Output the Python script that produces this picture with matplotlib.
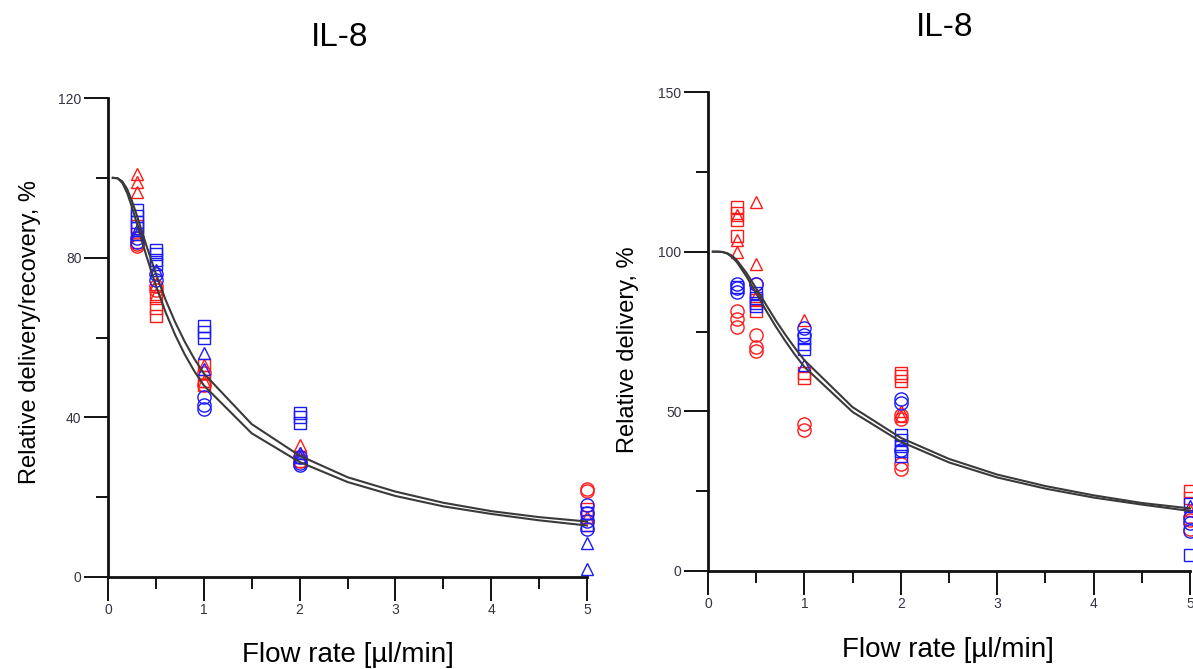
import matplotlib
matplotlib.use("Agg")
import matplotlib.pyplot as plt
from matplotlib.ticker import MultipleLocator

plt.rcParams['font.family'] = ['Liberation Sans', 'DejaVu Sans']

# ---- fitted curves (read at discrete flow rates) ----
curve_x = [0.05, 0.1, 0.15, 0.2, 0.25, 0.3, 0.4, 0.5, 0.6, 0.7, 0.8, 0.9,
           1.0, 1.5, 2.0, 2.5, 3.0, 3.5, 4.0, 4.5, 5.0]
left_curve_upper = [100, 99.9, 99.1, 97.2, 94.2, 90.7, 83.1, 76.0, 69.5, 63.9,
                    59.0, 54.7, 51.0, 38.3, 30.4, 25.0, 21.4, 18.6, 16.5, 15.0, 13.9]
left_curve_lower = [100, 99.9, 98.7, 96.2, 92.7, 88.7, 80.5, 73.0, 66.4, 60.7,
                    55.8, 51.6, 48.0, 36.0, 28.8, 23.8, 20.3, 17.7, 15.8, 14.2, 12.9]
right_curve_upper = [100, 100, 99.9, 99.5, 98.7, 97.3, 93.3, 88.5, 83.5, 78.6,
                     74.1, 69.9, 66.0, 51.3, 41.7, 35.1, 30.2, 26.6, 23.7, 21.3, 19.6]
right_curve_lower = [100, 100, 99.9, 99.4, 98.3, 96.7, 92.2, 87.0, 81.7, 76.7,
                     72.1, 67.8, 63.9, 49.8, 40.5, 34.0, 29.3, 25.8, 23.0, 20.8, 18.8]

# ---- measured points: left panel (relative delivery/recovery) ----
L_red_tri_x = [0.3, 0.3, 0.3, 0.5, 0.5, 1, 1, 2, 2, 5]
L_red_tri_y = [101, 99, 96.5, 73.5, 71, 53, 49, 33, 31, 15]
L_red_sq_x = [0.3, 0.3, 0.3, 0.5, 0.5, 0.5, 1, 1, 1, 2, 2, 5, 5, 5]
L_red_sq_y = [88, 86, 84, 70, 67.5, 65.5, 53, 49, 48, 30, 29, 17, 15, 13]
L_red_circ_x = [0.3, 0.3, 0.5, 0.5, 1, 1, 2, 5, 5]
L_red_circ_y = [83.5, 83, 73, 72, 51, 48, 29, 22, 21.5]
L_blue_tri_x = [0.3, 0.3, 0.5, 1, 1, 2, 2, 5, 5]
L_blue_tri_y = [87, 86, 77, 56, 52, 31, 30, 8.5, 2]
L_blue_sq_x = [0.3, 0.3, 0.3, 0.3, 0.5, 0.5, 0.5, 0.5, 1, 1, 1, 2, 2, 2, 5, 5]
L_blue_sq_y = [92, 90.5, 89, 87.5, 82, 81, 79.5, 78.5, 63, 61.5, 60, 41, 40, 38.5, 16, 13]
L_blue_circ_x = [0.3, 0.3, 0.5, 0.5, 1, 1, 1, 2, 2, 2, 5, 5, 5, 5]
L_blue_circ_y = [85, 84, 76, 74.5, 45, 43, 42, 30, 28.5, 28, 18, 16, 14, 12]

# ---- measured points: right panel (relative delivery) ----
R_red_tri_x = [0.3, 0.3, 0.3, 0.5, 0.5, 0.5, 1, 2, 2, 5]
R_red_tri_y = [111.5, 103.5, 100, 115.5, 96, 86, 78.5, 50, 48.5, 19]
R_red_sq_x = [0.3, 0.3, 0.3, 0.3, 0.5, 0.5, 1, 1, 2, 2, 2, 5, 5]
R_red_sq_y = [114, 112, 110, 105, 85, 81.5, 62, 60.5, 62, 61, 59.5, 25, 23]
R_red_circ_x = [0.3, 0.3, 0.3, 0.5, 0.5, 0.5, 0.5, 1, 1, 2, 2, 2, 2, 5, 5]
R_red_circ_y = [81.5, 79, 76.5, 90, 74, 70, 69, 46, 44, 49, 47.5, 33.5, 32, 16, 13]
R_blue_tri_x = [1, 5]
R_blue_tri_y = [64.5, 20.5]
R_blue_sq_x = [0.3, 0.5, 0.5, 0.5, 0.5, 1, 1, 1, 2, 2, 2, 2, 2, 5, 5]
R_blue_sq_y = [89, 87, 85.5, 84, 83, 73, 71, 69.5, 42.5, 41, 39, 37.5, 36, 21, 5]
R_blue_circ_x = [0.3, 0.3, 0.3, 0.5, 1, 1, 2, 2, 2, 5, 5, 5]
R_blue_circ_y = [90, 88.5, 87.5, 90, 76, 74, 54, 52.5, 38, 17, 15, 12.5]

x_ticks = [0, 1, 2, 3, 4, 5]
left_y_ticks = [0, 40, 80, 120]
right_y_ticks = [0, 50, 100, 150]

RED = '#ff1a1a'
BLUE = '#1a1aff'
CURVE = '#3a3a3a'

fig = plt.figure(figsize=(11.93, 6.69), dpi=100)
ax_l = fig.add_axes([108 / 1193, 1 - 577 / 669, 479 / 1193, 479 / 669])
ax_r = fig.add_axes([708 / 1193, 1 - 571 / 669, 482 / 1193, 479 / 669])


def draw_points(ax, xs, ys, color, marker, ms):
    ax.plot(xs, ys, linestyle='none', marker=marker, markersize=ms,
            markerfacecolor='none', markeredgecolor=color,
            markeredgewidth=1.0, clip_on=False, zorder=2)


def style_axes(ax, ymax, yticks, yminor):
    ax.set_xlim(0, 5)
    ax.set_ylim(0, ymax)
    for side in ('top', 'right'):
        ax.spines[side].set_visible(False)
    for side in ('left', 'bottom'):
        ax.spines[side].set_linewidth(2.0)
        ax.spines[side].set_color('#111111')
    ax.set_xticks(x_ticks)
    ax.set_yticks(yticks)
    ax.xaxis.set_minor_locator(MultipleLocator(0.5))
    ax.yaxis.set_minor_locator(MultipleLocator(yminor))
    ax.tick_params(which='major', direction='out', length=17, width=1.4,
                   color='#111111', labelsize=10, labelcolor='#333344', pad=2)
    ax.tick_params(which='minor', direction='out', length=8.5, width=1.4,
                   color='#111111')
    ax.set_facecolor('white')


for ax, up, lo in ((ax_l, left_curve_upper, left_curve_lower),
                   (ax_r, right_curve_upper, right_curve_lower)):
    ax.plot(curve_x, up, color=CURVE, linewidth=1.5, zorder=3, clip_on=False)
    ax.plot(curve_x, lo, color=CURVE, linewidth=1.5, zorder=3, clip_on=False)

draw_points(ax_l, L_red_tri_x, L_red_tri_y, RED, '^', 9)
draw_points(ax_l, L_red_sq_x, L_red_sq_y, RED, 's', 8.5)
draw_points(ax_l, L_red_circ_x, L_red_circ_y, RED, 'o', 9.5)
draw_points(ax_l, L_blue_tri_x, L_blue_tri_y, BLUE, '^', 9)
draw_points(ax_l, L_blue_sq_x, L_blue_sq_y, BLUE, 's', 8.5)
draw_points(ax_l, L_blue_circ_x, L_blue_circ_y, BLUE, 'o', 9.5)

draw_points(ax_r, R_red_tri_x, R_red_tri_y, RED, '^', 9)
draw_points(ax_r, R_red_sq_x, R_red_sq_y, RED, 's', 8.5)
draw_points(ax_r, R_red_circ_x, R_red_circ_y, RED, 'o', 9.5)
draw_points(ax_r, R_blue_tri_x, R_blue_tri_y, BLUE, '^', 9)
draw_points(ax_r, R_blue_sq_x, R_blue_sq_y, BLUE, 's', 8.5)
draw_points(ax_r, R_blue_circ_x, R_blue_circ_y, BLUE, 'o', 9.5)

style_axes(ax_l, 120, left_y_ticks, 20)
style_axes(ax_r, 150, right_y_ticks, 25)

# titles and axis labels
fig.text(340 / 1193, 1 - 38 / 669, 'IL-8', ha='center', va='center', fontsize=24)
fig.text(945 / 1193, 1 - 28 / 669, 'IL-8', ha='center', va='center', fontsize=24)
fig.text(348 / 1193, 1 - 655 / 669, 'Flow rate [\u00b5l/min]', ha='center',
         va='center', fontsize=20)
fig.text(948 / 1193, 1 - 650 / 669, 'Flow rate [\u00b5l/min]', ha='center',
         va='center', fontsize=20)
fig.text(30 / 1193, 1 - 332 / 669, 'Relative delivery/recovery, %', ha='center',
         va='center', rotation=90, fontsize=17)
fig.text(628 / 1193, 1 - 350 / 669, 'Relative delivery, %', ha='center',
         va='center', rotation=90, fontsize=17)

fig.savefig('out.png', dpi=100, facecolor='white')
